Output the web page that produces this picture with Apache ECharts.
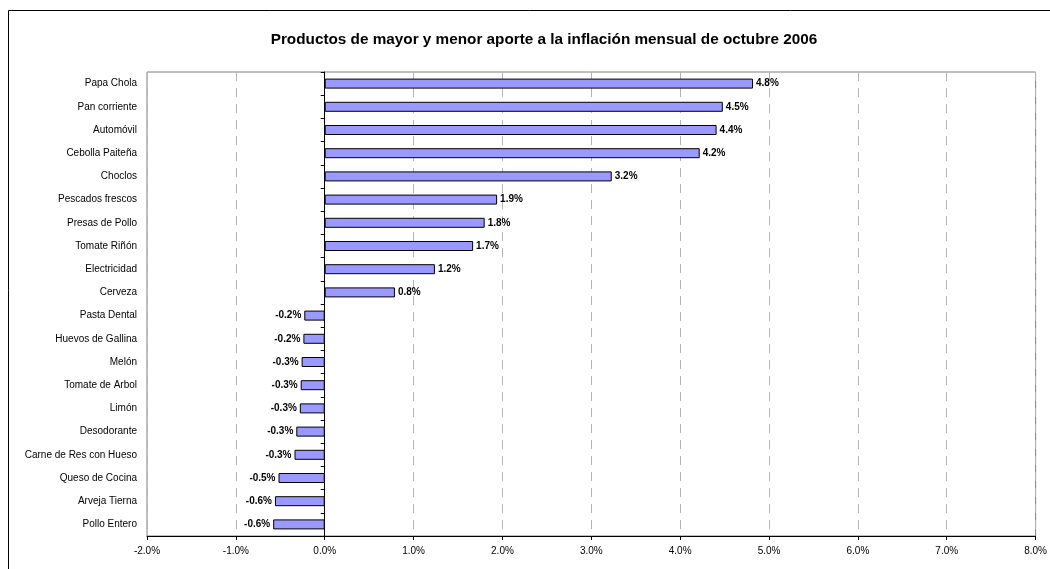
<!DOCTYPE html>
<html>
<head>
<meta charset="utf-8">
<script src="https://cdn.jsdelivr.net/npm/echarts@6/dist/echarts.min.js"></script>
<style>
  html, body { margin: 0; padding: 0; background: #fff; }
  #chart { width: 1050px; height: 569px; }
</style>
</head>
<body>
<div id="chart"></div>
<script>
const productos = ['Papa Chola', 'Pan corriente', 'Automóvil', 'Cebolla Paiteña', 'Choclos',
  'Pescados frescos', 'Presas de Pollo', 'Tomate Riñón', 'Electricidad', 'Cerveza',
  'Pasta Dental', 'Huevos de Gallina', 'Melón', 'Tomate de Arbol', 'Limón',
  'Desodorante', 'Carne de Res con Hueso', 'Queso de Cocina', 'Arveja Tierna', 'Pollo Entero']
const aporte = [4.82, 4.48, 4.41, 4.22, 3.23, 1.94, 1.80, 1.67, 1.24, 0.79,
  -0.23, -0.24, -0.26, -0.27, -0.28, -0.32, -0.34, -0.52, -0.56, -0.58]
const ejeMin = -2
const ejeMax = 8
const ejePaso = 1

const chart = echarts.init(document.getElementById('chart'))

const option = {
  textStyle: { fontFamily: 'Liberation Sans, Arial, sans-serif' },
  title: {
    text: 'Productos de mayor y menor aporte a la inflación mensual de octubre 2006',
    left: 539,
    top: 27,
    textAlign: 'center',
    textStyle: { fontSize: 15.3, fontWeight: 'bold', color: '#000' }
  },
  graphic: [{
    type: 'rect',
    shape: { x: 8.5, y: 10.5, width: 1100, height: 600 },
    style: { fill: 'none', stroke: '#000', lineWidth: 1 },
    silent: true
  }],
  grid: {
    left: 147,
    right: 12,
    top: 72,
    bottom: 33,
    show: true,
    borderColor: '#808080',
    borderWidth: 1
  },
  xAxis: {
    type: 'value',
    min: ejeMin,
    max: ejeMax,
    interval: ejePaso,
    axisLine: { show: true, lineStyle: { color: '#000' } },
    axisTick: { show: true, length: 4, lineStyle: { color: '#000' } },
    axisLabel: {
      color: '#000',
      fontSize: 10,
      margin: 10,
      formatter: v => v.toFixed(1) + '%'
    },
    splitLine: {
      show: true,
      lineStyle: { color: '#b4b4b4', type: [9, 7] }
    }
  },
  yAxis: [
    {
      type: 'category',
      data: productos,
      inverse: true,
      position: 'left',
      axisLine: { show: false, onZero: false },
      axisTick: { show: false },
      axisLabel: { color: '#000', fontSize: 10, margin: 10 }
    },
    {
      type: 'category',
      data: productos,
      inverse: true,
      position: 'left',
      axisLine: { show: true, onZero: true, lineStyle: { color: '#000' } },
      axisTick: { show: true, length: 4, lineStyle: { color: '#000' } },
      axisLabel: { show: false }
    }
  ],
  series: [{
    type: 'bar',
    yAxisIndex: 0,
    barWidth: 10,
    itemStyle: { color: '#9999ff', borderColor: '#000', borderWidth: 1 },
    label: {
      show: true,
      position: 'right',
      distance: 3,
      fontSize: 10,
      fontWeight: 'bold',
      color: '#000',
      formatter: p => p.value.toFixed(1) + '%'
    },
    // las barras negativas llevan su etiqueta a la izquierda
    data: aporte.map(v => ({
      value: v,
      label: { position: v < 0 ? 'left' : 'right' }
    }))
  }]
}

chart.setOption(option)
</script>
</body>
</html>
